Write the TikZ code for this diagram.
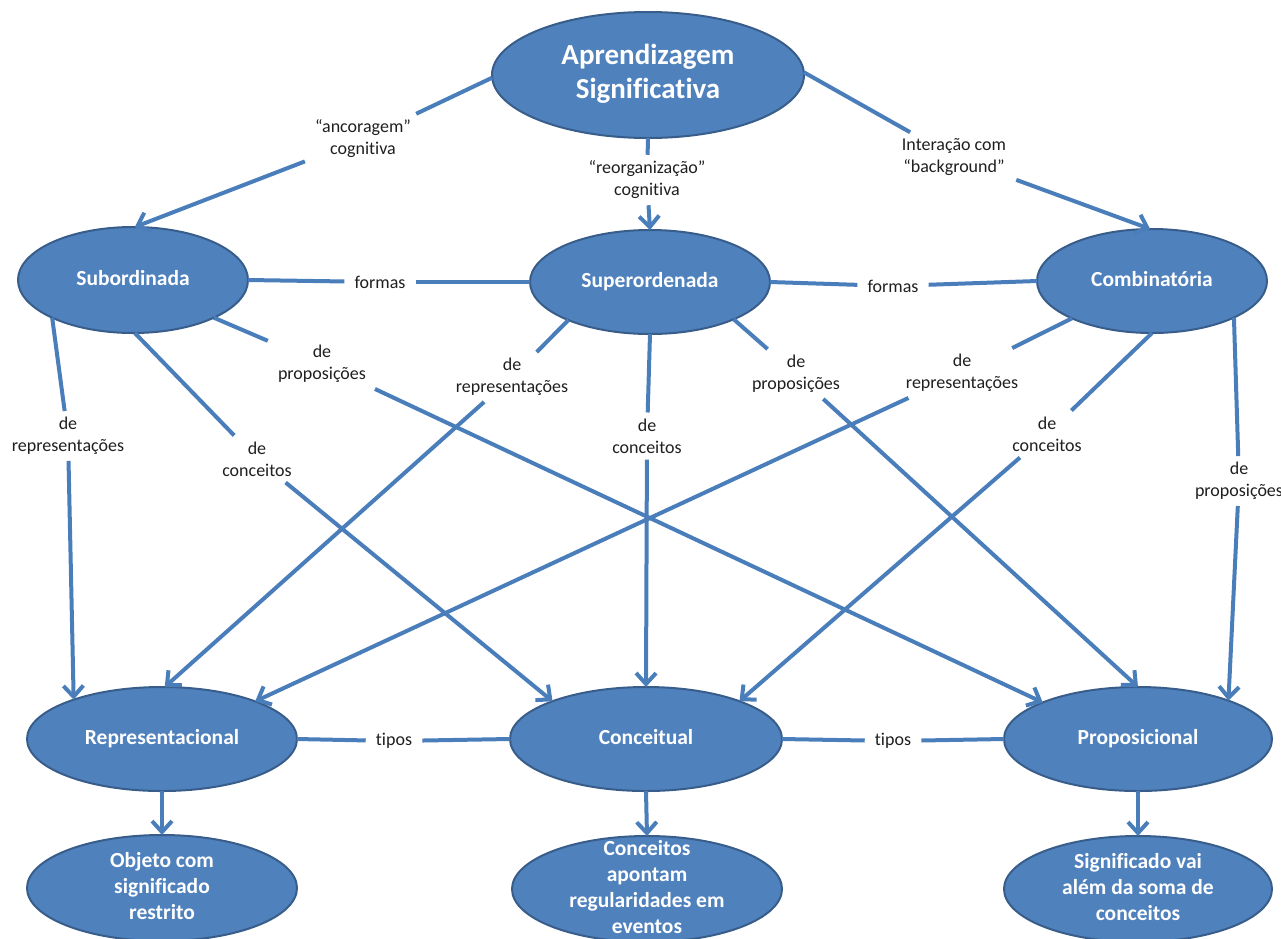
\documentclass[tikz,border=0pt]{standalone}
\usepackage{fontspec}
\setmainfont{Carlito}[Ligatures=NoCommon]
\usetikzlibrary{shapes.geometric,arrows.meta}

\definecolor{cmfill}{HTML}{4F81BD}
\definecolor{cmedge}{HTML}{385D8A}
\definecolor{cmline}{HTML}{4A7EBB}
\definecolor{cmtext}{HTML}{1F1F1F}

% centred multi-line text that does not enlarge the oval around it
\newcommand\ovaltext[1]{\vbox to 0pt{\vss\hbox{\begin{tabular}{@{}c@{}}#1\end{tabular}}\vss}}

\tikzset{
  concept/.style={ellipse, draw=cmedge, line width=2pt, fill=cmfill, text=white,
    font=\fontsize{21.5}{26}\selectfont\bfseries, inner sep=0pt, outer sep=0pt},
  titleoval/.style={concept, font=\fontsize{29}{34}\selectfont\bfseries},
  linklabel/.style={text=cmtext, font=\fontsize{18}{22}\selectfont, align=center,
    inner xsep=10pt, inner ysep=6pt},
  conn/.style={draw=cmline, line width=4pt},
  arr/.style={conn, -{Straight Barb[length=11pt,width=20pt]}}
}

\begin{document}
\begin{tikzpicture}[x=1pt, y=-1pt]
\useasboundingbox (0,0) rectangle (1281,938);

% concepts
\node[titleoval, minimum width=312, minimum height=126] (apr) at (648,75)
  {\ovaltext{Aprendizagem\\Significativa}};
\node[concept, minimum width=230, minimum height=106] (sub) at (133,280) {\ovaltext{Subordinada}};
\node[concept, minimum width=240, minimum height=104] (sup) at (650,282) {\ovaltext{Superordenada}};
\node[concept, minimum width=230, minimum height=104] (com) at (1152,281) {\ovaltext{Combinatória}};
\node[concept, minimum width=270, minimum height=104] (rep) at (162,739) {\ovaltext{Representacional}};
\node[concept, minimum width=272, minimum height=104] (con) at (646,739) {\ovaltext{Conceitual}};
\node[concept, minimum width=268, minimum height=104] (pro) at (1138,739) {\ovaltext{Proposicional}};
\node[concept, minimum width=270, minimum height=106] (obj) at (162,888)
  {\ovaltext{Objeto com\\significado\\restrito}};
\node[concept, minimum width=270, minimum height=106] (cnc) at (647,889)
  {\ovaltext{Conceitos\\apontam\\regularidades em\\eventos}};
\node[concept, minimum width=268, minimum height=106] (sig) at (1138,889)
  {\ovaltext{Significado vai\\além da soma de\\conceitos}};

% linking phrases
\node[linklabel] (l-anc) at (363,139) {“ancoragem”\\cognitiva};
\node[linklabel] (l-reo) at (647,180) {“reorganização”\\cognitiva};
\node[linklabel] (l-int) at (954,157) {Interação com\\“background”};
\node[linklabel] (l-f1) at (380,282) {formas};
\node[linklabel] (l-f2) at (893,286) {formas};
\node[linklabel] (l-sr) at (68,436) {de\\representações};
\node[linklabel] (l-sc) at (257,459) {de\\conceitos};
\node[linklabel] (l-sp) at (322,364) {de\\proposições};
\node[linklabel] (l-pr) at (512,377) {de\\representações};
\node[linklabel] (l-pc) at (647,436) {de\\conceitos};
\node[linklabel] (l-pp) at (796,374) {de\\proposições};
\node[linklabel] (l-cr) at (962,373) {de\\representações};
\node[linklabel] (l-cc) at (1047,434) {de\\conceitos};
\node[linklabel] (l-cp) at (1239,481) {de\\proposições};
\node[linklabel] (l-t1) at (394,741) {tipos};
\node[linklabel] (l-t2) at (893,741) {tipos};

% from the central concept
\draw[conn] (apr.181) -- (l-anc);
\draw[arr]  (l-anc) -- (sub.88);
\draw[conn] (apr.270) -- (l-reo);
\draw[arr]  (l-reo) -- (sup.90);
\draw[conn] (apr.1) -- (l-int);
\draw[arr]  (l-int) -- (com.92);

% forms
\draw[conn] (sub.0) -- (l-f1);
\draw[conn] (l-f1) -- (sup.180);
\draw[conn] (sup.0) -- (l-f2);
\draw[conn] (l-f2) -- (com.180);

% subordinada
\draw[conn] (sub.205) -- (l-sr);
\draw[arr]  (l-sr) -- (rep.156);
\draw[conn] (sub.272) -- (l-sc);
\draw[arr]  (l-sc) -- (con.158);
\draw[conn] (sub.335) -- (l-sp);
\draw[arr]  (l-sp) -- (pro.159);

% superordenada
\draw[conn] (sup.205) -- (l-pr);
\draw[arr]  (l-pr) -- (rep.87);
\draw[conn] (sup.270) -- (l-pc);
\draw[arr]  (l-pc) -- (con.90);
\draw[conn] (sup.336) -- (l-pp);
\draw[arr]  (l-pp) -- (pro.90);

% combinatória
\draw[conn] (com.205) -- (l-cr);
\draw[arr]  (l-cr) -- (rep.22);
\draw[conn] (com.270) -- (l-cc);
\draw[arr]  (l-cc) -- (con.22);
\draw[conn] (com.336) -- (l-cp);
\draw[arr]  (l-cp) -- (pro.23);

% types
\draw[conn] (rep.0) -- (l-t1);
\draw[conn] (l-t1) -- (con.180);
\draw[conn] (con.0) -- (l-t2);
\draw[conn] (l-t2) -- (pro.180);

% meanings
\draw[arr] (rep.270) -- (obj.90);
\draw[arr] (con.270) -- (cnc.90);
\draw[arr] (pro.270) -- (sig.90);
\end{tikzpicture}
\end{document}
